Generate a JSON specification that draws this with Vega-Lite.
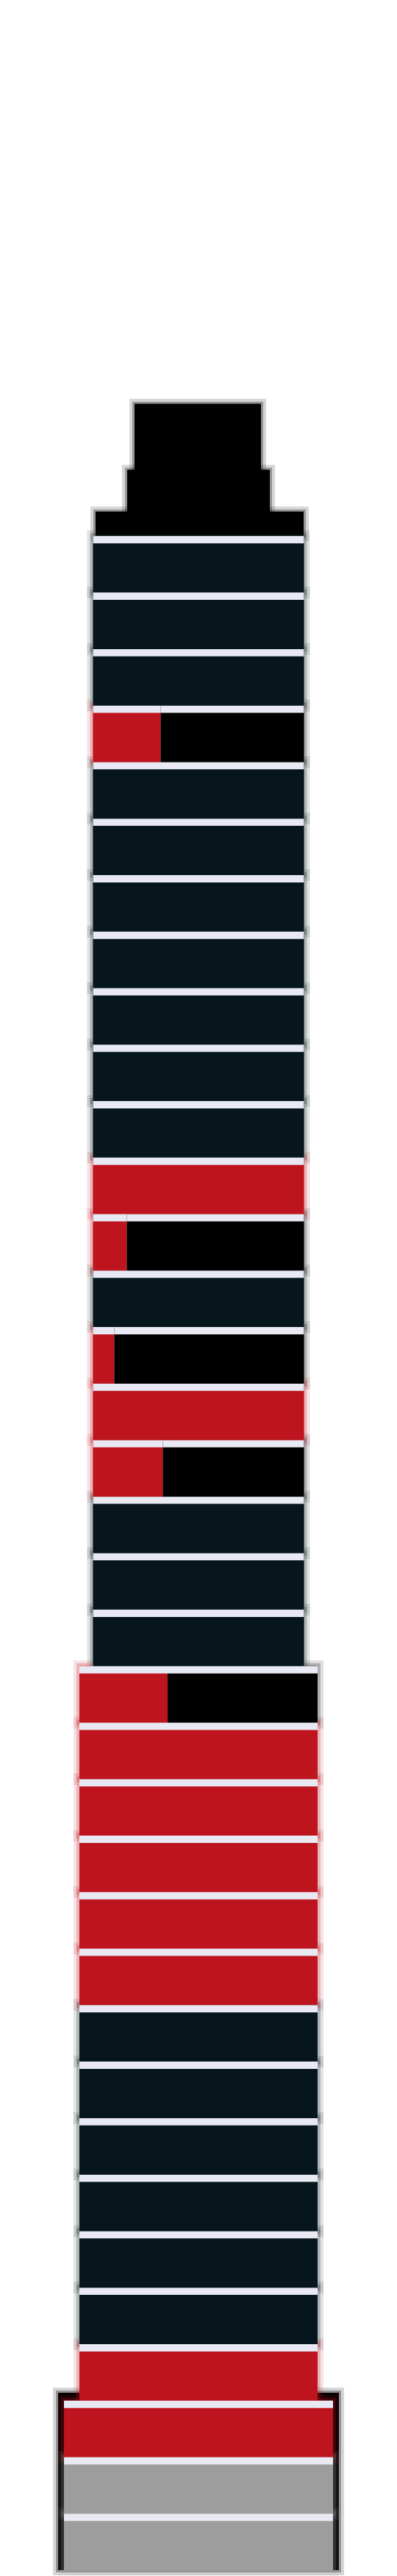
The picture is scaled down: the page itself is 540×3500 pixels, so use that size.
{
  "$schema": "https://vega.github.io/schema/vega-lite/v6.json",
  "width": 540,
  "height": 3500,
  "autosize": {"type": "fit", "contains": "padding"},
  "padding": 0,
  "background": "white",
  "config": {"view": {"stroke": null}},
  "datasets": {
    "floors": [
      {"floor": 35, "part": "dark", "value": 287},
      {"floor": 34, "part": "dark", "value": 287},
      {"floor": 33, "part": "dark", "value": 287},
      {"floor": 32, "part": "red", "value": 92},
      {"floor": 32, "part": "black", "value": 195},
      {"floor": 31, "part": "dark", "value": 287},
      {"floor": 30, "part": "dark", "value": 287},
      {"floor": 29, "part": "dark", "value": 287},
      {"floor": 28, "part": "dark", "value": 287},
      {"floor": 27, "part": "dark", "value": 287},
      {"floor": 26, "part": "dark", "value": 287},
      {"floor": 25, "part": "dark", "value": 287},
      {"floor": 24, "part": "red", "value": 287},
      {"floor": 23, "part": "red", "value": 46},
      {"floor": 23, "part": "black", "value": 241},
      {"floor": 22, "part": "dark", "value": 287},
      {"floor": 21, "part": "red", "value": 29},
      {"floor": 21, "part": "black", "value": 258},
      {"floor": 20, "part": "red", "value": 287},
      {"floor": 19, "part": "red", "value": 95},
      {"floor": 19, "part": "black", "value": 192},
      {"floor": 18, "part": "dark", "value": 287},
      {"floor": 17, "part": "dark", "value": 287},
      {"floor": 16, "part": "dark", "value": 287},
      {"floor": 15, "part": "red", "value": 120},
      {"floor": 15, "part": "black", "value": 204},
      {"floor": 14, "part": "red", "value": 324},
      {"floor": 13, "part": "red", "value": 324},
      {"floor": 12, "part": "red", "value": 324},
      {"floor": 11, "part": "red", "value": 324},
      {"floor": 10, "part": "red", "value": 324},
      {"floor": 9, "part": "dark", "value": 324},
      {"floor": 8, "part": "dark", "value": 324},
      {"floor": 7, "part": "dark", "value": 324},
      {"floor": 6, "part": "dark", "value": 324},
      {"floor": 5, "part": "dark", "value": 324},
      {"floor": 4, "part": "dark", "value": 324},
      {"floor": 3, "part": "red", "value": 324},
      {"floor": 2, "part": "red", "value": 366},
      {"floor": 1, "part": "grey", "value": 366},
      {"floor": 0, "part": "grey", "value": 366}
    ],
    "shell": [
      {"piece": "base", "bottom": 0, "top": 3.14, "left": -8, "right": 374},
      {"piece": "roof1", "bottom": 36, "top": 36.43, "left": 43, "right": 326},
      {"piece": "roof2", "bottom": 36.43, "top": 37.17, "left": 86, "right": 280},
      {"piece": "roof3", "bottom": 37.17, "top": 38.34, "left": 96, "right": 268}
    ]
  },
  "resolve": {"scale": {"y": "independent"}},
  "layer": [
    {
      "data": {"name": "shell"},
      "mark": {"type": "rect", "color": "#000000", "stroke": "#000000", "strokeWidth": 14, "strokeOpacity": 0.16},
      "encoding": {
        "y": {"field": "bottom", "type": "quantitative", "scale": {"domain": [0, 45.487], "nice": false, "zero": false}, "axis": null},
        "y2": {"field": "top"},
        "x": {"field": "left", "type": "quantitative", "scale": {"domain": [-87, 453], "nice": false, "zero": false}, "axis": null},
        "x2": {"field": "right"}
      }
    },
    {
      "data": {"name": "shell"},
      "mark": {"type": "rect", "color": "#000000", "stroke": "#000000", "strokeWidth": 6, "strokeOpacity": 0.3},
      "encoding": {
        "y": {"field": "bottom", "type": "quantitative", "scale": {"domain": [0, 45.487], "nice": false, "zero": false}, "axis": null},
        "y2": {"field": "top"},
        "x": {"field": "left", "type": "quantitative", "scale": {"domain": [-87, 453], "nice": false, "zero": false}, "axis": null},
        "x2": {"field": "right"}
      }
    },
    {
      "data": {"name": "floors"},
      "mark": {"type": "bar", "strokeWidth": 16, "strokeOpacity": 0.12},
      "encoding": {
        "y": {"field": "floor", "type": "ordinal", "scale": {"domain": [44, 43, 42, 41, 40, 39, 38, 37, 36, 35, 34, 33, 32, 31, 30, 29, 28, 27, 26, 25, 24, 23, 22, 21, 20, 19, 18, 17, 16, 15, 14, 13, 12, 11, 10, 9, 8, 7, 6, 5, 4, 3, 2, 1, 0], "paddingInner": 0, "paddingOuter": 0.2435, "align": 1, "round": false}, "axis": null},
        "x": {"field": "value", "type": "quantitative", "stack": "center", "scale": {"domain": [-87, 453], "nice": false, "zero": false}, "axis": null},
        "color": {"field": "part", "type": "nominal", "scale": {"domain": ["red", "black", "dark", "grey"], "range": ["#bd141d", "#000000", "#06161c", "#9d9d9d"]}, "legend": null},
        "stroke": {"field": "part", "type": "nominal", "scale": {"domain": ["red", "black", "dark", "grey"], "range": ["#bd141d", "#000000", "#06161c", "#9d9d9d"]}, "legend": null},
        "order": {"field": "part", "type": "nominal", "sort": "descending"}
      }
    },
    {
      "data": {"name": "floors"},
      "mark": {"type": "bar", "strokeWidth": 8, "strokeOpacity": 0.22},
      "encoding": {
        "y": {"field": "floor", "type": "ordinal", "scale": {"domain": [44, 43, 42, 41, 40, 39, 38, 37, 36, 35, 34, 33, 32, 31, 30, 29, 28, 27, 26, 25, 24, 23, 22, 21, 20, 19, 18, 17, 16, 15, 14, 13, 12, 11, 10, 9, 8, 7, 6, 5, 4, 3, 2, 1, 0], "paddingInner": 0, "paddingOuter": 0.2435, "align": 1, "round": false}, "axis": null},
        "x": {"field": "value", "type": "quantitative", "stack": "center", "scale": {"domain": [-87, 453], "nice": false, "zero": false}, "axis": null},
        "color": {"field": "part", "type": "nominal", "scale": {"domain": ["red", "black", "dark", "grey"], "range": ["#bd141d", "#000000", "#06161c", "#9d9d9d"]}, "legend": null},
        "stroke": {"field": "part", "type": "nominal", "scale": {"domain": ["red", "black", "dark", "grey"], "range": ["#bd141d", "#000000", "#06161c", "#9d9d9d"]}, "legend": null},
        "order": {"field": "part", "type": "nominal", "sort": "descending"}
      }
    },
    {
      "data": {"name": "floors"},
      "mark": {"type": "bar", "color": "#e8e9f3"},
      "encoding": {
        "y": {"field": "floor", "type": "ordinal", "scale": {"domain": [44, 43, 42, 41, 40, 39, 38, 37, 36, 35, 34, 33, 32, 31, 30, 29, 28, 27, 26, 25, 24, 23, 22, 21, 20, 19, 18, 17, 16, 15, 14, 13, 12, 11, 10, 9, 8, 7, 6, 5, 4, 3, 2, 1, 0], "paddingInner": 0, "paddingOuter": 0.2435, "align": 1, "round": false}, "axis": null},
        "x": {"field": "value", "type": "quantitative", "stack": "center", "scale": {"domain": [-87, 453], "nice": false, "zero": false}, "axis": null},
        "detail": {"field": "part", "type": "nominal"},
        "order": {"field": "part", "type": "nominal", "sort": "descending"}
      }
    },
    {
      "data": {"name": "floors"},
      "mark": {"type": "bar", "height": {"band": 0.8708}, "yOffset": 5},
      "encoding": {
        "y": {"field": "floor", "type": "ordinal", "scale": {"domain": [44, 43, 42, 41, 40, 39, 38, 37, 36, 35, 34, 33, 32, 31, 30, 29, 28, 27, 26, 25, 24, 23, 22, 21, 20, 19, 18, 17, 16, 15, 14, 13, 12, 11, 10, 9, 8, 7, 6, 5, 4, 3, 2, 1, 0], "paddingInner": 0, "paddingOuter": 0.2435, "align": 1, "round": false}, "axis": null},
        "x": {"field": "value", "type": "quantitative", "stack": "center", "scale": {"domain": [-87, 453], "nice": false, "zero": false}, "axis": null},
        "color": {"field": "part", "type": "nominal", "scale": {"domain": ["red", "black", "dark", "grey"], "range": ["#bd141d", "#000000", "#06161c", "#9d9d9d"]}, "legend": null},
        "order": {"field": "part", "type": "nominal", "sort": "descending"}
      }
    }
  ]
}
